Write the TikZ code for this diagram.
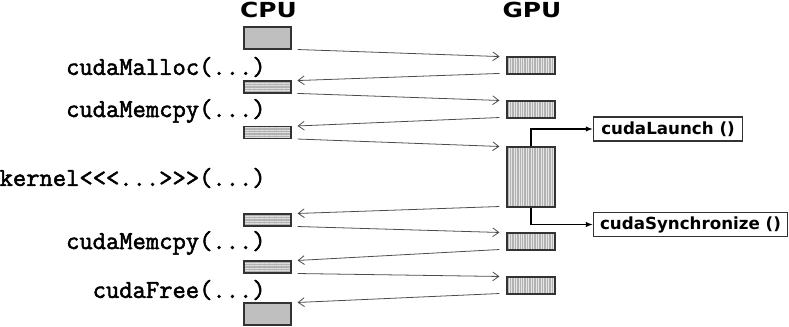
\documentclass[tikz,border=0pt]{standalone}
\usepackage{fontspec}
\usepackage{tikz}
\usetikzlibrary{arrows.meta, patterns.meta, positioning}
\newfontfamily\headfont[FakeStretch=1.2]{DejaVu Sans}
\newfontfamily\callfont{DejaVu Sans}
\newfontfamily\codefont[FakeBold=2]{Latin Modern Mono}
\tikzset{
	box/.style={draw=black!80, line width=0.6pt, inner sep=0pt},
	ram/.style={box, fill=gray!50, minimum width=0.94cm, minimum height=0.44cm},
	hbuf/.style={box, preaction={fill=gray!60}, pattern={Lines[angle=0, distance=1.4pt, line width=0.5pt]},
		pattern color=gray!25, minimum width=0.94cm, minimum height=0.24cm},
	vbuf/.style={box, preaction={fill=gray!60}, pattern={Lines[angle=90, distance=1.4pt, line width=0.5pt]},
		pattern color=gray!20, minimum width=0.96cm, minimum height=0.34cm},
	call/.style={box, fill=white, anchor=west, minimum height=0.48cm,
		font=\callfont\bfseries\fontsize{9.5}{10}\selectfont},
	code/.style={inner sep=0pt, anchor=east, font=\codefont\fontsize{14.7}{15}\selectfont},
	head/.style={inner sep=0pt, font=\headfont\bfseries\fontsize{11.8}{12}\selectfont},
	xfer/.style={draw=black!70, line width=0.45pt, -{Straight Barb[length=3.5pt, width=5pt]}},
	ctl/.style={draw, line width=0.9pt, -{Latex[length=4pt, width=3pt]}}
}
\begin{document}
\begin{tikzpicture}[x=0.02cm, y=-0.02cm]
	\useasboundingbox (0,0) rectangle (789,327);
	
	% Column titles
	\node[head] (cpu) at (268.5, 9.5) {CPU};
	\node[head] (gpu) at (532, 9.5) {GPU};
	
	% Host side memory
	\node[ram]  (c1) at (267.5, 38) {};
	\node[hbuf] (c2) at (267.5, 87) {};
	\node[hbuf] (c3) at (267.5, 132.5) {};
	\node[hbuf] (c4) at (267.5, 220) {};
	\node[hbuf] (c5) at (267.5, 267) {};
	\node[ram]  (c6) at (267.5, 314) {};
	
	% Device side memory
	\node[vbuf] (g1) at (531, 65.5) {};
	\node[vbuf] (g2) at (531, 109.5) {};
	\node[vbuf, minimum height=1.2cm] (g3) at (531, 177) {};
	\node[vbuf] (g4) at (531, 241.5) {};
	\node[vbuf] (g5) at (531, 285.5) {};
	
	% Host calls
	\node[code] (malloc)  at (266, 67)  {cudaMalloc(...)};
	\node[code] (copyin)  at (266, 111) {cudaMemcpy(...)};
	\node[code] (kernel)  at (266, 178) {kernel<\kern0pt<\kern0pt<...>\kern0pt>\kern0pt>(...)};
	\node[code] (copyout) at (266, 243) {cudaMemcpy(...)};
	\node[code] (free)    at (266, 290) {cudaFree(...)};
	
	% Runtime calls
	\node[call, minimum width=2.98cm] (launch) at (593, 129) {cudaLaunch ()};
	\node[call, minimum width=3.88cm] (sync) at (593, 224.5) {cudaSynchronize ()};
	
	% Transfers host <-> device
	\foreach \c/\g in {c1/g1, c2/g2, c3/g3, c4/g4, c5/g5}
		\draw[xfer] ([shift={(6,0)}]\c.south east) -- ([shift={(-7,0)}]\g.north west);
	\foreach \g/\c in {g1/c2, g2/c3, g3/c4, g4/c5, g5/c6}
		\draw[xfer] ([shift={(-7,-1)}]\g.south west) -- ([shift={(6,0)}]\c.north east);
	
	% Kernel start and end
	\draw[ctl] (g3.north) |- (launch.west);
	\draw[ctl] (g3.south) |- (sync.west);
	
\end{tikzpicture}
\end{document}
